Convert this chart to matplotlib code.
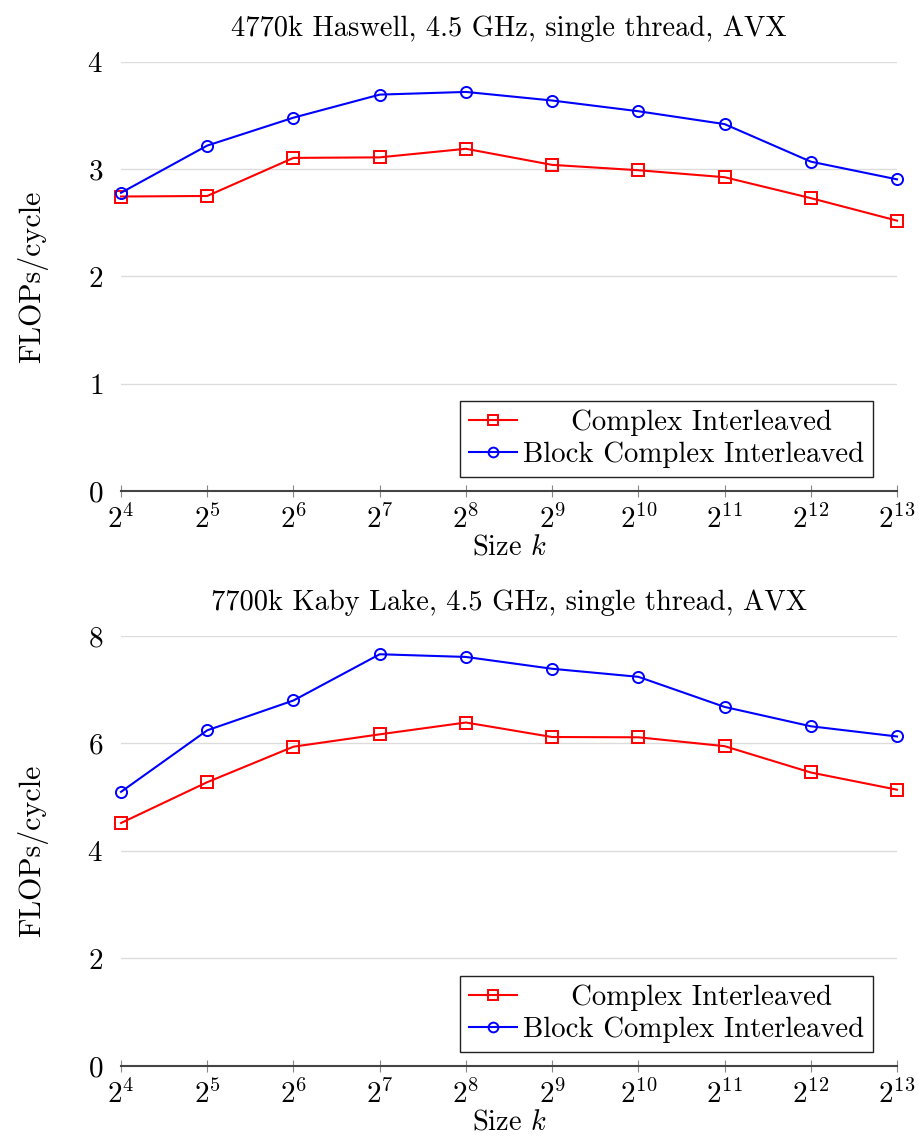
import matplotlib
matplotlib.use("Agg")
import matplotlib.pyplot as plt

plt.rcParams['font.family'] = ['cmr10', 'DejaVu Serif']
plt.rcParams['mathtext.fontset'] = 'cm'
plt.rcParams['axes.formatter.use_mathtext'] = True

sizes = [2**4, 2**5, 2**6, 2**7, 2**8, 2**9, 2**10, 2**11, 2**12, 2**13]

haswell_ci = [2.745, 2.75, 3.105, 3.11, 3.19, 3.04, 2.99, 2.925, 2.73, 2.52]
haswell_bci = [2.78, 3.22, 3.48, 3.695, 3.72, 3.64, 3.54, 3.42, 3.07, 2.905]

kaby_ci = [4.52, 5.28, 5.94, 6.17, 6.39, 6.12, 6.115, 5.95, 5.46, 5.14]
kaby_bci = [5.10, 6.245, 6.80, 7.66, 7.61, 7.39, 7.24, 6.68, 6.32, 6.13]

titles = ["4770k Haswell, 4.5 GHz, single thread, AVX",
          "7700k Kaby Lake, 4.5 GHz, single thread, AVX"]
y_ticks = [[0, 1, 2, 3, 4], [0, 2, 4, 6, 8]]
label_ci = "Complex Interleaved"
label_bci = "Block Complex Interleaved"

fig = plt.figure(figsize=(9.19, 11.42), dpi=100)
ax1 = fig.add_axes([0.1317, 0.5701, 0.8444, 0.3757])
ax2 = fig.add_axes([0.1317, 0.0666, 0.8444, 0.3765])

for ax, ci, bci, title, yt in [(ax1, haswell_ci, haswell_bci, titles[0], y_ticks[0]),
                               (ax2, kaby_ci, kaby_bci, titles[1], y_ticks[1])]:
    ax.plot(sizes, ci, color='red', marker='s', mfc='none', mec='red',
            markersize=8, mew=1.4, lw=1.5, label="     " + label_ci, clip_on=False, zorder=3)
    ax.plot(sizes, bci, color='blue', marker='o', mfc='none', mec='blue',
            markersize=8, mew=1.4, lw=1.5, label=label_bci, clip_on=False, zorder=3)
    ax.set_xscale('log', base=2)
    ax.set_xlim(sizes[0], sizes[-1])
    ax.set_xticks(sizes)
    ax.minorticks_off()
    ax.set_ylim(yt[0], yt[-1])
    ax.set_yticks(yt)
    ax.grid(axis='y', color='#dcdcdc', lw=1)
    ax.set_axisbelow(True)
    for s in ['top', 'right', 'left']:
        ax.spines[s].set_visible(False)
    ax.spines['bottom'].set_color('#444444')
    ax.spines['bottom'].set_linewidth(1.5)
    ax.tick_params(axis='x', direction='inout', length=8, width=0.8, color='#888888',
                   labelsize=21, pad=6)
    ax.tick_params(axis='y', length=0, labelsize=21, pad=13)
    ax.set_title(title, fontsize=20.5, pad=19)
    ax.set_xlabel("Size $k$", fontsize=20.5, labelpad=0)
    ax.set_ylabel("FLOPs/cycle", fontsize=21.5, labelpad=28)
    leg = ax.legend(loc='lower right', bbox_to_anchor=(0.969, 0.0326), fontsize=20.7,
                    fancybox=False, framealpha=1, edgecolor='#222222',
                    borderaxespad=0, handlelength=1.7, handletextpad=0.2,
                    labelspacing=0.2, borderpad=0.3)
    leg.get_frame().set_linewidth(1.0)
    for h in leg.legend_handles:
        h.set_markersize(7)

fig.savefig("out.png", dpi=100)
